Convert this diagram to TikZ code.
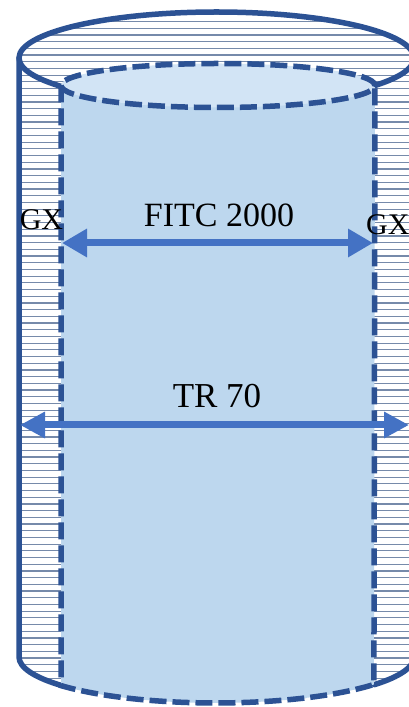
\documentclass[tikz,border=0pt]{standalone}
\usepackage{fontspec}
\setmainfont{Liberation Serif}
\usetikzlibrary{arrows.meta}
\definecolor{outerblue}{RGB}{44,82,148}
\definecolor{arrowblue}{RGB}{68,114,196}
\definecolor{bodyfill}{RGB}{189,215,238}
\definecolor{topfill}{RGB}{210,228,245}
\definecolor{hatchcol}{RGB}{118,138,170}
\tikzset{
  outerline/.style={draw=outerblue,line width=5.5pt,line cap=round,line join=round},
  innerline/.style={draw=outerblue,line width=5.5pt,dash pattern=on 17pt off 6pt},
  hatchline/.style={draw=hatchcol,line width=1.2pt},
  dimarrow/.style={draw=arrowblue,line width=7pt,{Triangle[length=25pt,width=27pt]}-{Triangle[length=25pt,width=27pt]}},
  dimarrowb/.style={draw=arrowblue,line width=7pt,{Triangle[length=25pt,width=25pt]}-{Triangle[length=25pt,width=25pt]}},
  lbl/.style={inner sep=0pt,anchor=base,text=black}
}
\begin{document}
\begin{tikzpicture}[x=1pt,y=1pt]
\useasboundingbox (0,0) rectangle (409,707);
\fill[white] (0,0) rectangle (409,707);
% hatching inside outer cylinder
\begin{scope}
  \clip (19,649) arc[start angle=180,end angle=0,x radius=197.5,y radius=46]
        -- (414,50) arc[start angle=0,end angle=-180,x radius=197.5,y radius=46] -- cycle;
  \foreach \i in {0,...,106} {
    \draw[hatchline] (0,2+\i*6.7) -- (420,2+\i*6.7);
  }
\end{scope}
% outer cylinder outline
\draw[outerline] (216.5,649) ellipse [x radius=197.5,y radius=46];
\draw[outerline] (19,649) -- (19,50) arc[start angle=180,end angle=218.5,x radius=197.5,y radius=46];
\draw[outerline] (414,649) -- (414,50) arc[start angle=0,end angle=-37,x radius=197.5,y radius=46];
% inner cylinder fill
\coordinate (itl) at (61,621.5);
\coordinate (ibl) at (61,21.4);
\coordinate (itr) at (375,621.5);
\coordinate (ibr) at (375,22.3);
\fill[bodyfill] (itl) -- (ibl) arc[start angle=218.5,end angle=323.3,x radius=197.5,y radius=46] -- (itr) -- cycle;
\fill[topfill] (218,621.5) ellipse [x radius=157,y radius=22];
% inner dashed outline
\draw[innerline] (itl) -- (ibl) arc[start angle=218.5,end angle=323.3,x radius=197.5,y radius=46] -- (itr);
\draw[innerline] (218,621.5) ellipse [x radius=157,y radius=22];
% dimension arrows
\coordinate (fl) at (62,464);
\coordinate (fr) at (373,464);
\draw[dimarrow] (fl) -- (fr);
\coordinate (tl) at (20,282);
\coordinate (tr) at (409,282);
\draw[dimarrowb] (tl) -- (tr);
% labels
\node[lbl,font=\fontsize{34}{40}\selectfont] (fitc) at (219,480) {FITC 2000};
\node[lbl,font=\fontsize{30}{36}\selectfont] (gxl) at (41.5,477) {GX};
\node[lbl,font=\fontsize{30}{36}\selectfont,anchor=base west] (gxr) at (366,472) {GX};
\node[lbl,font=\fontsize{35}{42}\selectfont] (tr70) at (217,299) {TR 70};
\end{tikzpicture}
\end{document}
